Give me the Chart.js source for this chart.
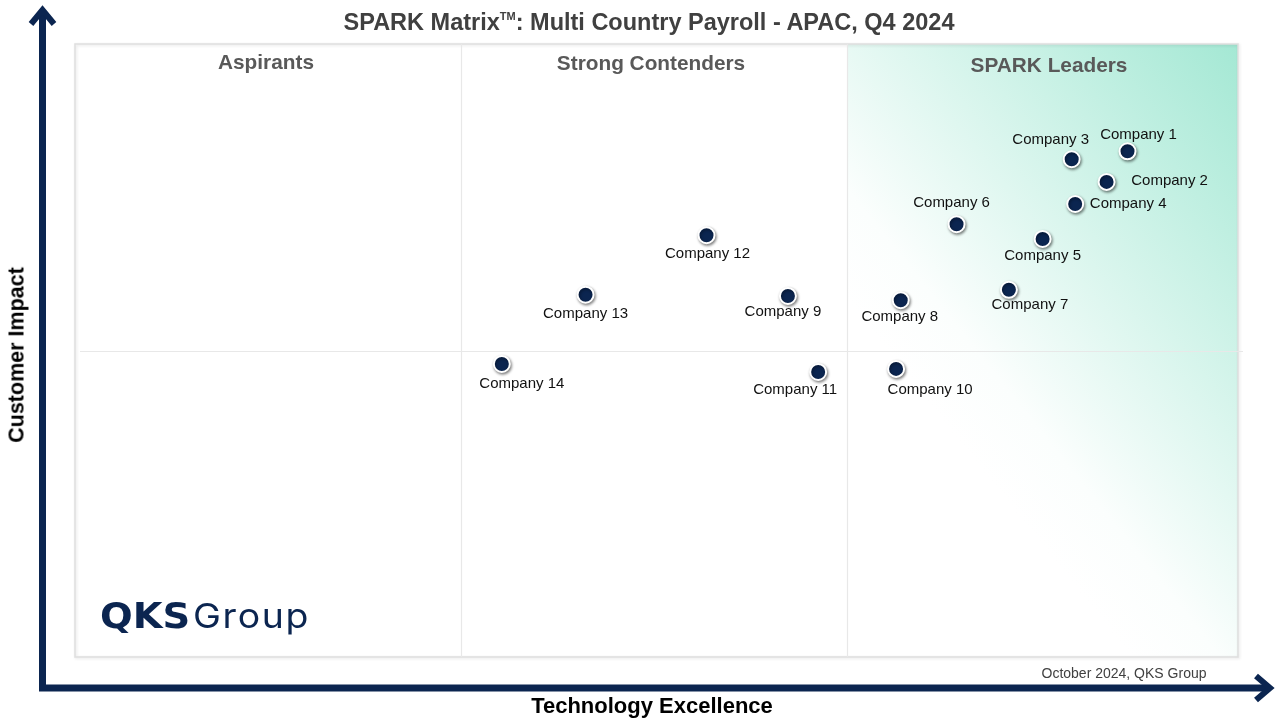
<!DOCTYPE html>
<html>
<head>
<meta charset="utf-8">
<title>SPARK Matrix - Multi Country Payroll - APAC, Q4 2024</title>
<script src="https://cdn.jsdelivr.net/npm/chart.js@4.4.1/dist/chart.umd.min.js"></script>
<style>
  html, body { margin: 0; padding: 0; background: #fff; }
  #wrap { position: relative; width: 1280px; height: 720px; overflow: hidden; font-family: "Liberation Sans", Arial, sans-serif; }
  #chart { position: absolute; left: 0; top: 0; }
  .txt { position: absolute; transform: translate(-50%, -50%); white-space: nowrap; }
  .title { left: 649px; top: 22px; font-size: 23.5px; font-weight: bold; color: #404040; }
  .title sup { font-size: 11px; vertical-align: 10px; line-height: 0; }
  .zone { font-size: 20.8px; font-weight: bold; color: #595959; }
  .axis { font-size: 22px; font-weight: bold; color: #000; }
  .foot { left: 1124px; top: 673px; font-size: 14px; color: #404040; }
  .logo { position: absolute; left: 100px; top: 595px; color: #0b2550; white-space: nowrap; }
  .logo b { display: inline-block; font-family: "DejaVu Sans", sans-serif; font-weight: bold; font-size: 35px; transform: scaleX(1.1); transform-origin: left center; }
  .logo span { display: inline-block; font-family: Inter, "Noto Sans", sans-serif; font-weight: 400; font-size: 34px; letter-spacing: 1.5px; margin-left: 11px; transform: scaleX(1.1); transform-origin: left center; }
</style>
</head>
<body>
<div id="wrap">
  <canvas id="chart" width="1280" height="720"></canvas>
  <div class="txt title">SPARK Matrix<sup>TM</sup>: Multi Country Payroll - APAC, Q4 2024</div>
  <div class="txt zone" style="left:266px; top:62px;">Aspirants</div>
  <div class="txt zone" style="left:651px; top:63px;">Strong Contenders</div>
  <div class="txt zone" style="left:1049px; top:65px;">SPARK Leaders</div>
  <div class="txt axis" style="left:17px; top:355px; font-size:21.5px; transform: translate(-50%, -50%) rotate(-90deg);">Customer Impact</div>
  <div class="txt axis" style="left:652px; top:706px;">Technology Excellence</div>
  <div class="txt foot">October 2024, QKS Group</div>
  <div class="logo"><b>QKS</b><span>Group</span></div>
</div>
<script>
// vendors and their scores (0-100 on both axes)
const companies = ['Company 1', 'Company 2', 'Company 3', 'Company 4', 'Company 5', 'Company 6', 'Company 7',
  'Company 8', 'Company 9', 'Company 10', 'Company 11', 'Company 12', 'Company 13', 'Company 14'];
const techExcellence = [90.5, 88.7, 85.7, 86.0, 83.2, 75.8, 80.3, 71.0, 61.3, 70.6, 63.9, 54.3, 43.9, 36.7];
const customerImpact = [82.5, 77.5, 81.2, 73.9, 68.2, 70.6, 59.9, 58.2, 58.9, 47.0, 46.5, 68.8, 59.1, 47.8];

// zone boundaries
const columnBreaks = [33.2, 66.4];
const rowBreak = 50;

// label offset from its dot, in px (style only)
const labelOffsets = [[11, -16], [63, -1], [-21, -19], [53, 0], [0, 17], [-5, -21], [21, 15],
  [-1, 17], [-5, 16], [34, 21], [-23, 18], [1, 19], [0, 19], [20, 20]];

const navy = '#0b2550';

const backdrop = {
  id: 'backdrop',
  beforeDraw(chart) {
    const { ctx, chartArea: a, scales: { x, y } } = chart;
    ctx.save();
    ctx.fillStyle = '#fff';
    ctx.fillRect(0, 0, chart.width, chart.height);

    // leaders column gradient
    const lx = x.getPixelForValue(columnBreaks[1]);
    const g = ctx.createLinearGradient(lx + 90, a.top + 370, a.right + 63, a.top + 80);
    g.addColorStop(0, '#ffffff');
    g.addColorStop(0.15, '#fbfefd');
    g.addColorStop(1, '#a4e8d4');
    ctx.fillStyle = g;
    ctx.fillRect(lx, a.top, a.right - lx, a.bottom - a.top);

    // frame
    ctx.shadowColor = 'rgba(0,0,0,0.12)';
    ctx.shadowBlur = 3;
    ctx.shadowOffsetX = 1;
    ctx.shadowOffsetY = 1;
    ctx.strokeStyle = '#dedede';
    ctx.lineWidth = 1.5;
    ctx.strokeRect(a.left, a.top, a.right - a.left, a.bottom - a.top);
    ctx.shadowColor = 'transparent';

    ctx.strokeStyle = '#e8e8e8';
    ctx.lineWidth = 1.2;
    columnBreaks.forEach(v => {
      const px = Math.round(x.getPixelForValue(v)) + 0.5;
      ctx.beginPath();
      ctx.moveTo(px, a.top);
      ctx.lineTo(px, a.bottom);
      ctx.stroke();
    });
    const py = Math.round(y.getPixelForValue(rowBreak)) + 0.5;
    ctx.beginPath();
    ctx.moveTo(a.left + 5, py);
    ctx.lineTo(a.right + 5, py);
    ctx.stroke();

    // axis arrows
    ctx.strokeStyle = navy;
    ctx.lineWidth = 7;
    ctx.lineJoin = 'miter';
    ctx.beginPath();
    ctx.moveTo(42.5, 12);
    ctx.lineTo(42.5, 688);
    ctx.lineTo(1266, 688);
    ctx.stroke();
    ctx.lineWidth = 6;
    ctx.beginPath();
    ctx.moveTo(31, 24);
    ctx.lineTo(42.5, 10);
    ctx.lineTo(54, 24);
    ctx.stroke();
    ctx.beginPath();
    ctx.moveTo(1256, 676);
    ctx.lineTo(1270, 688);
    ctx.lineTo(1256, 700);
    ctx.stroke();
    ctx.restore();
  }
};

const dotShadow = {
  id: 'dotShadow',
  beforeDatasetDraw(chart) {
    const ctx = chart.ctx;
    ctx.save();
    ctx.shadowColor = 'rgba(0,0,0,0.45)';
    ctx.shadowBlur = 3;
    ctx.shadowOffsetX = 1;
    ctx.shadowOffsetY = 1.5;
  },
  afterDatasetDraw(chart) {
    chart.ctx.restore();
  }
};

const pointLabels = {
  id: 'pointLabels',
  afterDatasetsDraw(chart) {
    const ctx = chart.ctx;
    const meta = chart.getDatasetMeta(0);
    ctx.save();
    ctx.font = '15px "Liberation Sans", Arial, sans-serif';
    ctx.fillStyle = '#111';
    ctx.textAlign = 'center';
    ctx.textBaseline = 'middle';
    meta.data.forEach((pt, i) => {
      const [dx, dy] = labelOffsets[i];
      ctx.fillText(companies[i], pt.x + dx, pt.y + dy);
    });
    ctx.restore();
  }
};

new Chart(document.getElementById('chart'), {
  type: 'scatter',
  data: {
    labels: companies,
    datasets: [{
      data: companies.map((c, i) => ({ x: techExcellence[i], y: customerImpact[i] })),
      backgroundColor: navy,
      borderColor: '#ffffff',
      borderWidth: 2,
      pointRadius: 8,
      pointHoverRadius: 8
    }]
  },
  options: {
    responsive: false,
    animation: false,
    devicePixelRatio: 1,
    layout: { padding: { left: 75, right: 42, top: 44, bottom: 63 } },
    scales: {
      x: { display: false, min: 0, max: 100 },
      y: { display: false, min: 0, max: 100 }
    },
    plugins: {
      legend: { display: false },
      title: { display: false },
      tooltip: { enabled: false }
    }
  },
  plugins: [backdrop, dotShadow, pointLabels]
});
</script>
</body>
</html>
